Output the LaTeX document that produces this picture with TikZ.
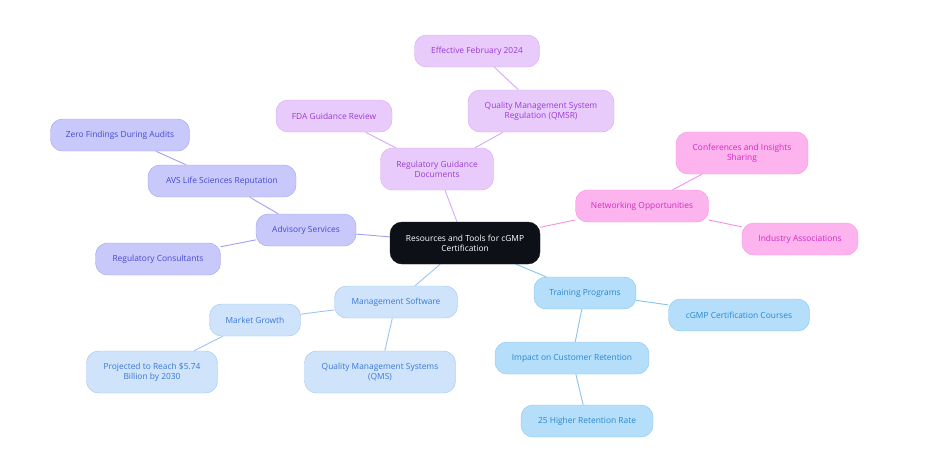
\documentclass[tikz,border=0pt]{standalone}
\usepackage{fontspec}
\setmainfont{Open Sans}
\usepackage{xcolor}
\definecolor{rootBlack}{HTML}{0D1117}
\definecolor{regPurple}{HTML}{E8CBFB}
\definecolor{regPurpleLine}{HTML}{D6A8F5}
\definecolor{regPurpleText}{HTML}{9B3BD8}
\definecolor{netPink}{HTML}{FDB4EE}
\definecolor{netPinkLine}{HTML}{F58FE2}
\definecolor{netPinkText}{HTML}{D22BBE}
\definecolor{advViolet}{HTML}{C8C9FA}
\definecolor{advVioletLine}{HTML}{9EA1F2}
\definecolor{advVioletText}{HTML}{4549D6}
\definecolor{softBlue}{HTML}{CFE3FB}
\definecolor{softBlueLine}{HTML}{9CC4F2}
\definecolor{softBlueText}{HTML}{3A7AD6}
\definecolor{skyBlue}{HTML}{B4DEFA}
\definecolor{skyBlueLine}{HTML}{86C4F0}
\definecolor{skyBlueText}{HTML}{2A88D2}
\usepackage{tikz}
\usetikzlibrary{backgrounds}

\begin{document}
\begin{tikzpicture}[
		x=1pt, y=-1pt,
		every node/.style={
			rounded corners=12pt,
			minimum height=32pt,
			inner sep=2pt,
			align=center,
			font=\fontsize{8.4}{10}\selectfont
		},
		rootNode/.style={fill=rootBlack, draw=rootBlack, text=white, minimum height=42pt},
		regNode/.style={fill=regPurple, draw=regPurpleLine, text=regPurpleText},
		netNode/.style={fill=netPink, draw=netPinkLine, text=netPinkText},
		advNode/.style={fill=advViolet, draw=advVioletLine, text=advVioletText},
		softNode/.style={fill=softBlue, draw=softBlueLine, text=softBlueText},
		skyNode/.style={fill=skyBlue, draw=skyBlueLine, text=skyBlueText},
		tall/.style={minimum height=42pt},
		link/.style={line width=0.9pt}
		]
		
		\useasboundingbox (0,0) rectangle (936,459);
		
		\node[rootNode, minimum width=150pt] (root) at (465,243) {Resources and Tools for cGMP\\Certification};
		
		% regulatory guidance branch
		\node[regNode, tall, minimum width=113pt] (regDocs) at (437,169) {Regulatory Guidance\\Documents};
		\node[regNode, minimum width=116pt] (fdaReview) at (334,116) {FDA Guidance Review};
		\node[regNode, tall, minimum width=146pt] (qmsr) at (541,111) {Quality Management System\\Regulation (QMSR)};
		\node[regNode, minimum width=125pt] (effective) at (477,51) {Effective February 2024};
		
		% networking branch
		\node[netNode, minimum width=133pt] (networking) at (642,206) {Networking Opportunities};
		\node[netNode, tall, minimum width=132pt] (conferences) at (742,153) {Conferences and Insights\\Sharing};
		\node[netNode, minimum width=116pt] (industry) at (800,239) {Industry Associations};
		
		% advisory branch
		\node[advNode, minimum width=100pt] (advisory) at (306,230) {Advisory Services};
		\node[advNode, minimum width=148pt] (avsRep) at (222,181) {AVS Life Sciences Reputation};
		\node[advNode, minimum width=139pt] (zeroFind) at (120,135) {Zero Findings During Audits};
		\node[advNode, minimum width=125pt] (regCons) at (158,259) {Regulatory Consultants};
		
		% management software branch
		\node[softNode, minimum width=123pt] (mgmtSoft) at (396,302) {Management Software};
		\node[softNode, minimum width=91pt] (marketGrowth) at (255,320) {Market Growth};
		\node[softNode, tall, minimum width=131pt] (projected) at (152,372) {Projected to Reach \$5.74\\Billion by 2030};
		\node[softNode, tall, minimum width=151pt] (qmsSys) at (380,372) {Quality Management Systems\\(QMS)};
		
		% training branch
		\node[skyNode, minimum width=102pt] (training) at (585,293) {Training Programs};
		\node[skyNode, minimum width=141pt] (courses) at (739,315) {cGMP Certification Courses};
		\node[skyNode, minimum width=154pt] (impact) at (572,358) {Impact on Customer Retention};
		\node[skyNode, minimum width=132pt] (retention) at (587,421) {25 Higher Retention Rate};
		
		\begin{scope}[on background layer]
			\draw[link, regPurpleLine] (root) -- (regDocs);
			\draw[link, regPurpleLine] (regDocs) -- (fdaReview);
			\draw[link, regPurpleLine] (regDocs) -- (qmsr);
			\draw[link, regPurpleLine] (qmsr) -- (effective);
			\draw[link, netPinkLine] (root) -- (networking);
			\draw[link, netPinkLine] (networking) -- (conferences);
			\draw[link, netPinkLine] (networking) -- (industry);
			\draw[link, advVioletLine] (root) -- (advisory);
			\draw[link, advVioletLine] (advisory) -- (avsRep);
			\draw[link, advVioletLine] (avsRep) -- (zeroFind);
			\draw[link, advVioletLine] (advisory) -- (regCons);
			\draw[link, softBlueLine] (root) -- (mgmtSoft);
			\draw[link, softBlueLine] (mgmtSoft) -- (marketGrowth);
			\draw[link, softBlueLine] (marketGrowth) -- (projected);
			\draw[link, softBlueLine] (mgmtSoft) -- (qmsSys);
			\draw[link, skyBlueLine] (root) -- (training);
			\draw[link, skyBlueLine] (training) -- (courses);
			\draw[link, skyBlueLine] (training) -- (impact);
			\draw[link, skyBlueLine] (impact) -- (retention);
		\end{scope}
		
	\end{tikzpicture}
\end{document}
